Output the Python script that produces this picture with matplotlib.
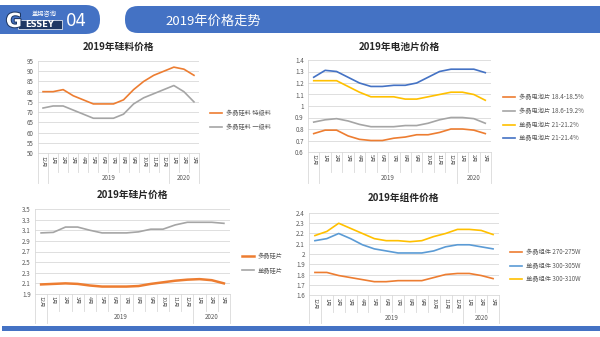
import matplotlib
matplotlib.use('Agg')
import matplotlib.pyplot as plt
from matplotlib.patches import FancyBboxPatch, Rectangle
import matplotlib.patheffects as pe
from matplotlib.ticker import FuncFormatter

plt.rcParams['font.family'] = ['Noto Sans CJK SC', 'DejaVu Sans']

# ---------------- data ----------------
months = ['12月', '1月', '2月', '3月', '4月', '5月', '6月', '7月', '8月',
          '9月', '10月', '11月', '12月', '1月', '2月', '3月']
year_groups = [('', 0, 0), ('2019', 1, 12), ('2020', 13, 15)]

# 2019年硅料价格
poly_premium = [80, 80, 81, 78, 76, 74, 74, 74, 76, 81, 85, 88, 90, 92, 91, 88]
poly_first = [72, 73, 73, 71, 69, 67, 67, 67, 69, 74, 77, 79, 81, 83, 80, 75]

# 2019年电池片价格
cell_multi_184 = [0.76, 0.79, 0.79, 0.74, 0.71, 0.70, 0.70, 0.72, 0.73, 0.75, 0.75, 0.77, 0.80, 0.80, 0.79, 0.76]
cell_multi_186 = [0.86, 0.88, 0.89, 0.87, 0.84, 0.82, 0.82, 0.82, 0.83, 0.83, 0.85, 0.88, 0.90, 0.90, 0.89, 0.85]
cell_mono_212 = [1.22, 1.22, 1.22, 1.17, 1.12, 1.08, 1.08, 1.08, 1.06, 1.06, 1.08, 1.10, 1.12, 1.12, 1.10, 1.05]
cell_mono_214 = [1.25, 1.31, 1.30, 1.25, 1.20, 1.17, 1.17, 1.18, 1.18, 1.20, 1.25, 1.30, 1.32, 1.32, 1.32, 1.29]

# 2019年硅片价格
wafer_multi = [2.08, 2.09, 2.10, 2.09, 2.06, 2.04, 2.04, 2.04, 2.05, 2.09, 2.12, 2.15, 2.17, 2.18, 2.16, 2.10]
wafer_mono = [3.05, 3.06, 3.16, 3.16, 3.10, 3.05, 3.05, 3.05, 3.07, 3.12, 3.12, 3.20, 3.25, 3.25, 3.25, 3.23]

# 2019年组件价格
mod_multi_270 = [1.82, 1.82, 1.79, 1.77, 1.75, 1.73, 1.73, 1.74, 1.74, 1.74, 1.77, 1.80, 1.81, 1.81, 1.79, 1.76]
mod_mono_300 = [2.13, 2.15, 2.20, 2.15, 2.09, 2.05, 2.03, 2.01, 2.01, 2.01, 2.03, 2.07, 2.09, 2.09, 2.07, 2.05]
mod_mono_310 = [2.18, 2.22, 2.30, 2.25, 2.20, 2.15, 2.13, 2.13, 2.12, 2.13, 2.17, 2.20, 2.24, 2.24, 2.23, 2.19]

ORANGE = '#ED7D31'
GRAY = '#A5A5A5'
YELLOW = '#FFC000'
BLUE = '#4472C4'
LBLUE = '#5B9BD5'
GRID = '#D9D9D9'
TXT = '#595959'

W, H = 600, 337
fig = plt.figure(figsize=(6, 3.37), dpi=100)
fig.patch.set_facecolor('white')

bg = fig.add_axes([0, 0, 1, 1], zorder=-5)
bg.set_xlim(0, W)
bg.set_ylim(H, 0)
bg.axis('off')

# header
bg.add_patch(FancyBboxPatch((-30, 5), 130, 29, boxstyle='round,pad=0,rounding_size=14',
                            fc=BLUE, ec='none'))
bg.add_patch(FancyBboxPatch((125, 6), 520, 27, boxstyle='round,pad=0,rounding_size=13',
                            fc=BLUE, ec='none'))
bg.add_patch(Rectangle((18, 20), 44, 9, fc='#1F3864', ec='white', lw=0.5))
bg.text(14, 21.5, 'G', color='white', fontsize=14, fontweight='bold', family='DejaVu Sans',
        ha='center', va='center',
        path_effects=[pe.withStroke(linewidth=1.5, foreground='#1F3864')])
bg.text(40, 24.8, 'ESSEY', color='white', fontsize=6, fontweight='bold', family='DejaVu Sans',
        ha='center', va='center')
bg.text(44, 14, '盖锡咨询', color='white', fontsize=4.5, ha='center', va='center')
bg.text(76, 21, '04', color='white', fontsize=12, ha='center', va='center',
        family='DejaVu Sans')
bg.text(213, 21, '2019年价格走势', color='white', fontsize=9.5, ha='center', va='center')

# bottom bar
bg.add_patch(Rectangle((2, 326), 598, 5, fc=BLUE, ec='none'))


def make_axes(x0, y0, x1, y1):
    return fig.add_axes([x0 / W, 1 - y1 / H, (x1 - x0) / W, (y1 - y0) / H])


def style(ax, yticks, fmt, row1, row2, title, title_y):
    n = len(months)
    ax.set_xlim(-0.5, n - 0.5)
    ax.set_ylim(yticks[0], yticks[-1])
    ax.set_yticks(yticks)
    ax.yaxis.set_major_formatter(FuncFormatter(lambda v, p: fmt(v)))
    ax.set_xticks([])
    ax.grid(axis='y', color=GRID, lw=0.6)
    ax.set_axisbelow(True)
    for s in ['top', 'right']:
        ax.spines[s].set_visible(False)
    ax.spines['left'].set_color(GRID)
    ax.spines['left'].set_linewidth(0.6)
    ax.spines['bottom'].set_color(GRID)
    ax.spines['bottom'].set_linewidth(0.6)
    ax.tick_params(axis='y', length=0, labelsize=4.5, labelcolor=TXT, pad=3)
    ah = ax.get_position().height * H
    r1 = row1 / ah
    r2 = row2 / ah
    tr = ax.get_xaxis_transform()
    gb = {-0.5, 0.5, 12.5, n - 0.5}
    for k in range(n + 1):
        b = k - 0.5
        bot = -r2 if b in gb else -r1
        ax.plot([b, b], [0, bot], transform=tr, color=GRID, lw=0.6, clip_on=False)
    for i, m in enumerate(months):
        ax.text(i, -2.5 / ah, m, rotation=270, ha='center', va='top', transform=tr,
                fontsize=3.9, color=TXT)
    for lab, a, b in year_groups:
        ax.text((a + b) / 2, -(r1 + r2) / 2, lab, ha='center', va='center', transform=tr,
                fontsize=4.5, color=TXT)
    pos = ax.get_position()
    fig.text((pos.x0 + pos.x1) / 2, 1 - title_y / H, title,
             ha='center', va='center', fontsize=7, fontweight='bold', color='#262626')


def fmt_int(v):
    return '%d' % round(v)


def fmt_g(v):
    return '%d' % round(v) if abs(v - round(v)) < 1e-9 else '%.1f' % v


def add_legend(ax, xpx, ypx):
    ax.legend(loc='center left', bbox_to_anchor=(xpx / W, 1 - ypx / H),
              bbox_transform=fig.transFigure, frameon=False, fontsize=4.5,
              labelcolor=TXT, handlelength=2.0, handletextpad=0.6, labelspacing=0.9)


x = list(range(len(months)))

# Chart 1
ax1 = make_axes(38, 61, 199, 153)
style(ax1, [50, 55, 60, 65, 70, 75, 80, 85, 90, 95], fmt_int, 19, 30, '2019年硅料价格', 47)
ax1.plot(x, poly_premium, color=ORANGE, lw=1.2, label='多晶硅料 特级料')
ax1.plot(x, poly_first, color=GRAY, lw=1.2, label='多晶硅料 一级料')
add_legend(ax1, 204, 120)

# Chart 2
ax2 = make_axes(308, 60, 491, 152)
style(ax2, [0.6, 0.7, 0.8, 0.9, 1.0, 1.1, 1.2, 1.3, 1.4], fmt_g, 20, 31, '2019年电池片价格', 47)
ax2.plot(x, cell_multi_184, color=ORANGE, lw=1.2, label='多晶电池片 18.4-18.5%')
ax2.plot(x, cell_multi_186, color=GRAY, lw=1.2, label='多晶电池片 18.6-19.2%')
ax2.plot(x, cell_mono_212, color=YELLOW, lw=1.2, label='单晶电池片 21-21.2%')
ax2.plot(x, cell_mono_214, color=BLUE, lw=1.2, label='单晶电池片 21-21.4%')
add_legend(ax2, 497, 118)

# Chart 3
ax3 = make_axes(35, 209, 230, 294)
style(ax3, [1.9, 2.1, 2.3, 2.5, 2.7, 2.9, 3.1, 3.3, 3.5], lambda v: '%.1f' % v, 17, 29,
      '2019年硅片价格', 195)
ax3.plot(x, wafer_multi, color=ORANGE, lw=1.8, label='多晶硅片')
ax3.plot(x, wafer_mono, color=GRAY, lw=1.2, label='单晶硅片')
add_legend(ax3, 236, 263)

# Chart 4
ax4 = make_axes(309, 213, 499, 295)
style(ax4, [1.6, 1.7, 1.8, 1.9, 2.0, 2.1, 2.2, 2.3, 2.4], fmt_g, 17, 28, '2019年组件价格', 198)
ax4.plot(x, mod_multi_270, color=ORANGE, lw=1.2, label='多晶组件 270-275W')
ax4.plot(x, mod_mono_300, color=LBLUE, lw=1.2, label='单晶组件 300-305W')
ax4.plot(x, mod_mono_310, color=YELLOW, lw=1.2, label='单晶组件 300-310W')
add_legend(ax4, 504, 266)

fig.savefig('out.png', dpi=100)
